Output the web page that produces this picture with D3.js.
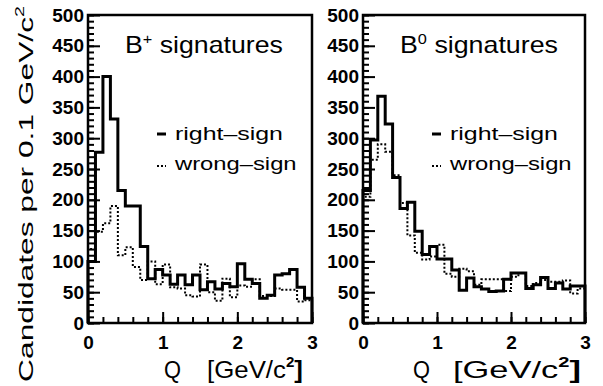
<!DOCTYPE html>
<html>
<head>
<meta charset="utf-8">
<script src="https://cdn.jsdelivr.net/npm/d3@7"></script>
<style>
  body { margin: 0; background: #fff; }
  svg { display: block; }
  text { font-family: 'Liberation Sans', Arial, sans-serif; fill: #000; }
</style>
</head>
<body>
<svg width="603" height="386" viewBox="0 0 603 386"></svg>
<script>
// lower edge of each Q bin [GeV/c^2]
const qBins = [0.0, 0.1, 0.2, 0.3, 0.4, 0.5, 0.6, 0.7, 0.8, 0.9,
  1.0, 1.1, 1.2, 1.3, 1.4, 1.5, 1.6, 1.7, 1.8, 1.9,
  2.0, 2.1, 2.2, 2.3, 2.4, 2.5, 2.6, 2.7, 2.8, 2.9]
const qMax = 3

// candidates per bin
const bPlusRight = [100, 277, 400, 331, 215, 190, 190, 124, 72, 87,
  78, 63, 78, 62, 78, 54, 67, 55, 64, 59,
  96, 71, 64, 40, 45, 78, 80, 87, 58, 40]
const bPlusWrong = [120, 148, 162, 190, 110, 123, 91, 70, 100, 63,
  95, 58, 56, 45, 43, 95, 50, 36, 72, 42,
  61, 59, 71, 44, 44, 56, 54, 54, 35, 37]
const bZeroRight = [215, 297, 368, 323, 236, 186, 196, 149, 111, 124,
  104, 104, 86, 53, 73, 59, 55, 51, 52, 71,
  81, 81, 56, 62, 74, 56, 65, 55, 60, 60]
const bZeroWrong = [205, 265, 290, 278, 240, 195, 142, 114, 103, 108,
  127, 80, 75, 88, 84, 62, 71, 71, 71, 52,
  75, 81, 60, 65, 70, 67, 67, 69, 48, 56]

const yTicks = [0, 50, 100, 150, 200, 250, 300, 350, 400, 450, 500]
const yMinor = d3.range(0, 501, 10)
const xTicks = [0, 1, 2, 3]
const xMinor = d3.range(0, 3.01, 0.2)

const svg = d3.select('svg')
const marginTop = 15
const marginBottom = 323
const innerHeight = marginBottom - marginTop
const font = "'Liberation Sans', Arial, sans-serif"

// stretch a text horizontally to a given width (the original font is wider)
const fitText = (sel, x, y, width, extra = '') => {
  const w = sel.node().getBBox().width
  sel.attr('transform', `translate(${x},${y})${extra} scale(${width / w},1)`)
}

const panels = [
  { left: 88, right: 312, sup: '+', rs: bPlusRight, ws: bPlusWrong, qX: 76, unitX: 119, unitLen: 96 },
  { left: 363, right: 585, sup: '0', rs: bZeroRight, ws: bZeroWrong, qX: 50, unitX: 90, unitLen: 128 }
]

panels.forEach((p) => {
  const innerWidth = p.right - p.left
  const g = svg.append('g').attr('transform', `translate(${p.left},${marginTop})`)

  const xScale = d3.scaleLinear().domain([0, qMax]).range([0, innerWidth])
  const yScale = d3.scaleLinear().domain([0, 500]).range([innerHeight, 0])

  // minor ticks first, no labels
  g.append('g').attr('class', 'minor')
    .call(d3.axisLeft(yScale).tickValues(yMinor).tickSize(-6).tickFormat(''))
  g.append('g').attr('class', 'minor').attr('transform', `translate(0,${innerHeight})`)
    .call(d3.axisBottom(xScale).tickValues(xMinor).tickSize(-6).tickFormat(''))
  g.selectAll('.minor text').remove()

  const yAxis = g.append('g')
    .call(d3.axisLeft(yScale).tickValues(yTicks).tickSize(-12).tickPadding(4).tickFormat(d3.format('d')))
  yAxis.selectAll('text')
    .attr('font-size', 19).attr('font-weight', 'bold').attr('font-family', font)

  const xAxis = g.append('g').attr('transform', `translate(0,${innerHeight})`)
    .call(d3.axisBottom(xScale).tickValues(xTicks).tickSize(-11).tickPadding(13).tickFormat(d3.format('d')))
  xAxis.selectAll('text')
    .attr('font-size', 19).attr('font-weight', 'bold').attr('font-family', font)

  g.selectAll('.domain').remove()
  g.selectAll('.tick line').attr('stroke', '#000').attr('stroke-width', 2)

  const line = d3.line()
    .x((d) => xScale(d[0]))
    .y((d) => yScale(d[1]))
    .curve(d3.curveStepAfter)

  const toSteps = (vals) => [[0, 0]]
    .concat(qBins.map((q, i) => [q, vals[i]]))
    .concat([[qMax, vals[vals.length - 1]], [qMax, 0]])

  g.append('path')
    .attr('d', line(toSteps(p.ws)))
    .attr('fill', 'none')
    .attr('stroke', '#000')
    .attr('stroke-width', 2)
    .attr('stroke-dasharray', '2,2')

  g.append('path')
    .attr('d', line(toSteps(p.rs)))
    .attr('fill', 'none')
    .attr('stroke', '#000')
    .attr('stroke-width', 3)

  // frame
  g.append('rect')
    .attr('width', innerWidth).attr('height', innerHeight)
    .attr('fill', 'none').attr('stroke', '#000').attr('stroke-width', 2.5)

  // title
  const title = g.append('text').attr('font-size', 23)
  title.append('tspan').text('B')
  title.append('tspan').attr('font-size', 14).attr('dy', -9).text(p.sup)
  title.append('tspan').attr('dy', 9).text(' signatures')
  fitText(title, 37, 38, 158)

  // legend
  g.append('line')
    .attr('x1', 69).attr('x2', 78).attr('y1', 119).attr('y2', 119)
    .attr('stroke', '#000').attr('stroke-width', 3)
  g.append('text').attr('font-size', 18).text('right\u2013sign')
    .call((s) => fitText(s, 87, 125, 108))
  g.append('line')
    .attr('x1', 69).attr('x2', 78).attr('y1', 151).attr('y2', 151)
    .attr('stroke', '#000').attr('stroke-width', 2).attr('stroke-dasharray', '2,2')
  g.append('text').attr('font-size', 18).text('wrong\u2013sign')
    .call((s) => fitText(s, 87, 155, 123))

  // x title
  g.append('text').attr('font-size', 24).text('Q')
    .call((s) => fitText(s, p.qX, 378 - marginTop, 17))
  const xt = g.append('text').attr('font-size', 24)
  xt.append('tspan').text('[GeV/c')
  xt.append('tspan').attr('font-size', 14).attr('dy', -11).attr('font-weight', 'bold').text('2')
  xt.append('tspan').attr('dy', 11).attr('font-weight', 'bold').text(']')
  fitText(xt, p.unitX, 378 - marginTop, p.unitLen)
})

// y title
const yt = svg.append('text')
  .attr('text-anchor', 'middle')
  .attr('font-size', 21)
yt.append('tspan').text('Candidates per 0.1 GeV/c')
yt.append('tspan').attr('font-size', 13).attr('dy', -9).text('2')
fitText(yt, 33, 194, 376, ' rotate(-90)')
</script>
</body>
</html>
